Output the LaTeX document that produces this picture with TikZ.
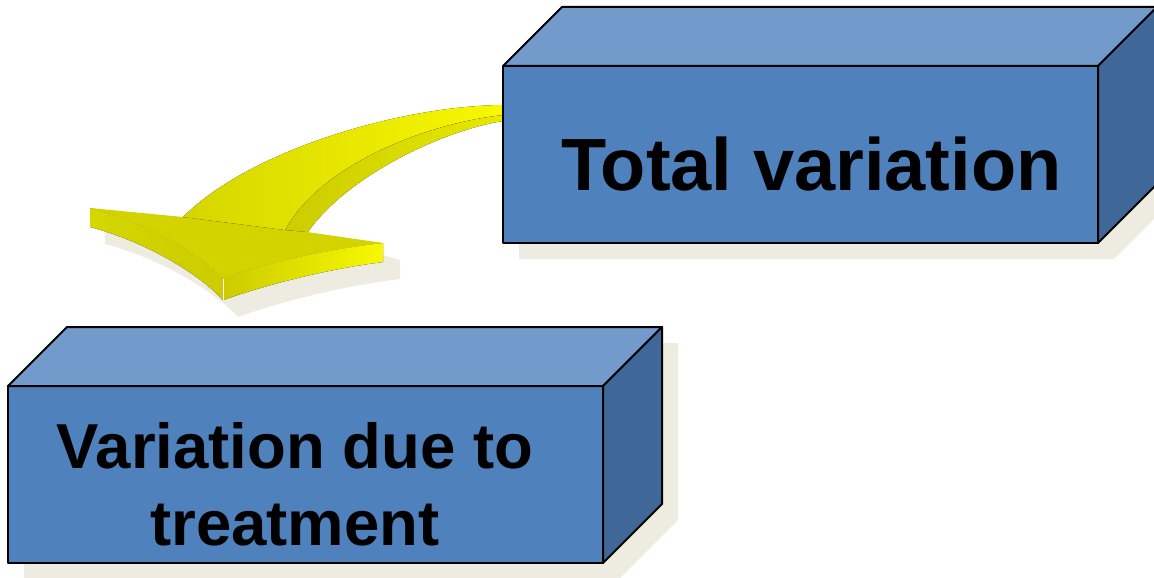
\documentclass[tikz,border=0pt]{standalone}
\usepackage{fontspec}
\setmainfont{Liberation Sans}
\usetikzlibrary{calc}
\pgfdeclarelayer{back}
\pgfdeclarelayer{mid}
\pgfsetlayers{back,mid,main}

\definecolor{boxfront}{HTML}{4F81BD}
\definecolor{boxtop}{HTML}{729ACA}
\definecolor{boxside}{HTML}{3F6797}
\definecolor{shadowbeige}{HTML}{EEECE1}
\definecolor{yelbright}{HTML}{F8F800}
\definecolor{yelmid}{HTML}{E8E800}
\definecolor{yeldull}{HTML}{D6D600}
\definecolor{yeldark}{HTML}{CCCC00}
\definecolor{yelhead}{HTML}{D3D300}

% 3D box: top and right faces hung on a front-face node
\newcommand\drawcuboid[1]{%
  \draw[topface] (#1.north west) -- ++(59,-59) -- ($(#1.north east)+(59,-59)$)
    -- (#1.north east) -- cycle;
  \draw[sideface] (#1.north east) -- ++(59,-59) -- ($(#1.south east)+(59,-59)$)
    -- (#1.south east) -- cycle;
  \begin{pgfonlayer}{back}
    \fill[dropshadow] ($(#1.south west)+(16,16)$) -- ($(#1.south east)+(16,16)$)
      -- ($(#1.south east)+(75,-43)$) -- ($(#1.north east)+(75,-43)$)
      -- ($(#1.north west)+(75,-43)$) -- ($(#1.north west)+(16,16)$) -- cycle;
  \end{pgfonlayer}
}

\begin{document}
\begin{tikzpicture}[x=1pt,y=-1pt,
  edge/.style={draw=black,line width=2pt,line join=round},
  front/.style={edge,fill=boxfront,rectangle,minimum width=595pt,
    minimum height=177pt,inner sep=0pt,outer sep=0pt},
  topface/.style={edge,fill=boxtop},
  sideface/.style={edge,fill=boxside},
  dropshadow/.style={fill=shadowbeige},
  bigtext/.style={font=\bfseries\fontsize{74}{80}\selectfont,inner sep=0pt,text=black},
  midtext/.style={font=\bfseries\fontsize{63.5}{77}\selectfont,inner sep=0pt,text=black}]
\useasboundingbox (0,0) rectangle (1154,578);
\clip (0,0) rectangle (1154,578);

% the two boxes
\node[front] (total) at (800.5,154.5) {};
\drawcuboid{total}
\node[front] (treat) at (305.5,474.5) {};
\drawcuboid{treat}

\node[bigtext,anchor=base west] (totaltext) at (561,190) {Total variation};
\node[midtext,anchor=base] (treattext1) at (295,468) {Variation due to};
\node[midtext,anchor=base] (treattext2) at (295,545) {treatment};

% curved yellow arrow, behind the boxes
\begin{pgfonlayer}{back}
  \fill[dropshadow] (105,225) -- (105,244) .. controls (155,257) and (210,287) .. (238,317)
    .. controls (275,304) and (335,287) .. (400,279) -- (400,260) -- (383,255) -- (238,290) -- cycle;
\end{pgfonlayer}
\begin{pgfonlayer}{mid}
  % left thickness of the head
  \fill[left color=yeldull,middle color=yelmid,right color=yeldark]
    (90,208) .. controls (140,220) and (195,250) .. (223,278)
    -- (223,300) .. controls (195,270) and (140,240) .. (90,227) -- cycle;
  % right thickness of the head
  \fill[left color=yeldark,right color=yelbright]
    (223,278) .. controls (260,265) and (320,250) .. (383,243)
    -- (383,262) .. controls (320,270) and (260,287) .. (223,300) -- cycle;
  % top of the head
  \fill[yelhead] (90,208) -- (183,217) -- (307,232) -- (383,243)
    .. controls (320,250) and (260,265) .. (223,278)
    .. controls (195,250) and (140,220) .. (90,208) -- cycle;
  % darker underside of the shaft
  \fill[left color=yeldark,right color=yelmid]
    (507,121) -- (503,121) .. controls (440,131) and (345,178) .. (308,232)
    -- (285,230) .. controls (318,168) and (420,124) .. (503,115) -- (507,115) -- cycle;
  % upper face of the shaft
  \fill[left color=yeldull,right color=yelbright]
    (507,105) -- (503,105) .. controls (400,106) and (250,150) .. (183,217)
    -- (285,230) .. controls (318,168) and (420,124) .. (503,115) -- (507,115) -- cycle;
  \draw[white,line width=0.8pt] (223,279) -- (223,300);
\end{pgfonlayer}
\end{tikzpicture}
\end{document}
